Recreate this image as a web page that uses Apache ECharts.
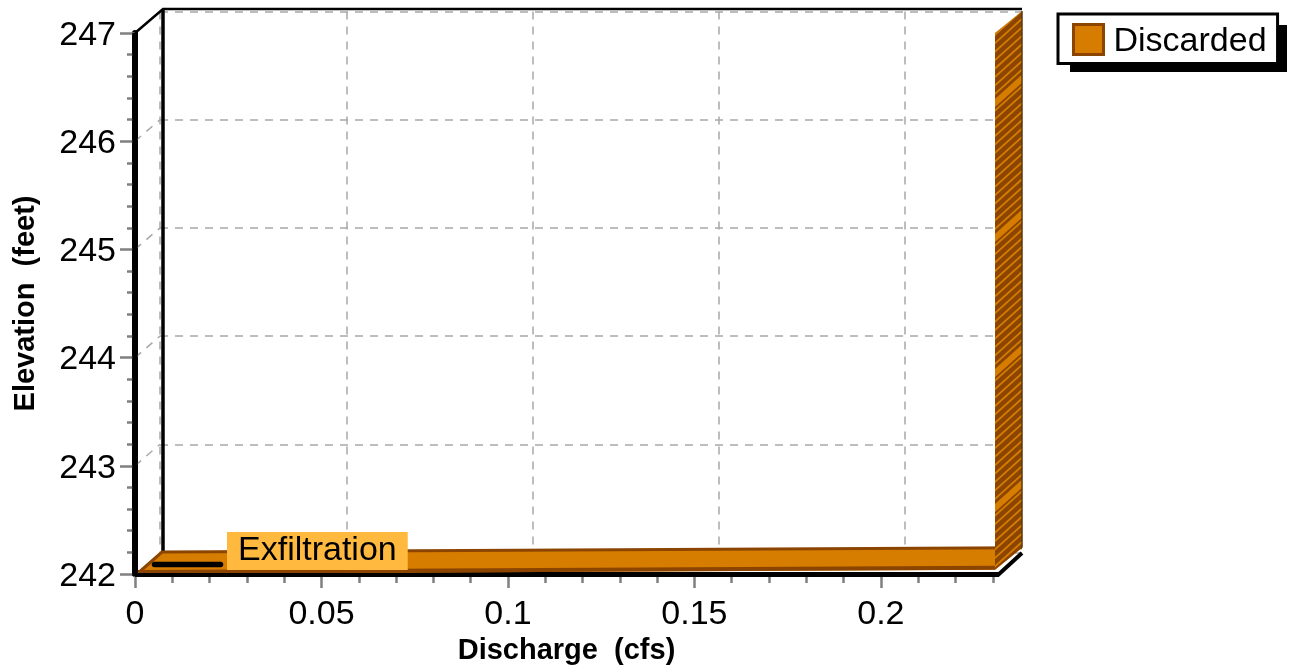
<!DOCTYPE html>
<html>
<head>
<meta charset="utf-8">
<style>html,body{margin:0;padding:0;background:#fff}#c{width:1291px;height:669px}</style>
<script src="https://cdn.jsdelivr.net/npm/echarts@6/dist/echarts.min.js"></script>
</head>
<body>
<div id="c"></div>
<script>
// ---- data ----
const xTicks = [0, 0.05, 0.1, 0.15, 0.2];
const yTicks = [242, 243, 244, 245, 246, 247];
const xMax = 0.2314;
const discardedDischarge = [0, 0.2306, 0.2306];
const discardedElevation = [242, 242.04, 247];
const exfiltrationDischarge = [0, 0.0177];
const exfiltrationElevation = [242, 242];
const seriesNames = ['Discarded', 'Exfiltration'];

// ---- style ----
const FONT = '"Liberation Sans", Arial, sans-serif';
const ORANGE = '#D67D00', BROWN = '#8B4500', GRAY = '#808080', DASH = '#A8A8A8';
const DX = 27, DY = -22;

function hatchTile() {
  const c = document.createElement('canvas');
  c.width = 1100; c.height = 135;
  const g = c.getContext('2d');
  g.fillStyle = BROWN; g.fillRect(0, 0, 1100, 135);
  g.strokeStyle = ORANGE;
  const s = 0.9, x0 = 995;
  const stroke = (y, w) => {
    g.lineWidth = w; g.beginPath();
    g.moveTo(x0 - 10, y + s * 10); g.lineTo(x0 + 40, y - s * 40); g.stroke();
  };
  for (let k = -10; k < 30; k++) stroke(k * 135 / 16 + 1, 1.8);
  [-32, 103, 238].forEach(y => stroke(y, 6));
  return c;
}
const tile = hatchTile();

const chart = echarts.init(document.getElementById('c'), null, {renderer: 'canvas'});

const tickLabel = {fontFamily: FONT, fontSize: 34, color: '#000'};

function renderDiscarded(params, api) {
  if (params.dataIndex === 0) {
    const pts = discardedDischarge.map((d, i) => api.coord([d, discardedElevation[i]]));
    const [a, b, c] = pts;
    const up = p => [p[0] + DX, p[1] + DY];
    const floor = [a, b, up(b), up(a)];
    const wall = [[b[0], b[1]], [c[0], c[1]], up(c), up(b)];
    return {type: 'group', children: [
      {type: 'polygon', shape: {points: floor}, style: {fill: ORANGE, stroke: null}},
      {type: 'polyline', shape: {points: [[a[0] + 3, a[1] - 2], [b[0], b[1] - 2]]}, style: {stroke: BROWN, lineWidth: 4, fill: null}},
      {type: 'polyline', shape: {points: [[a[0] + 2, a[1]], up(a), up(b)]}, style: {stroke: BROWN, lineWidth: 3, fill: null}},
      {type: 'polygon', shape: {points: wall}, style: {fill: {image: tile, repeat: 'repeat'}, stroke: null}},
      {type: 'line', shape: {x1: up(b)[0], y1: up(b)[1], x2: up(c)[0], y2: up(c)[1]}, style: {stroke: '#5a3a10', lineWidth: 1.5}}
    ]};
  }
  return {type: 'group', children: []};
}

function renderExfil(params, api) {
  if (params.dataIndex === 0) {
    const a = api.coord([exfiltrationDischarge[0], exfiltrationElevation[0]]);
    const b = api.coord([exfiltrationDischarge[1], exfiltrationElevation[1]]);
    const ox = 19.5, oy = -9.5;
    return {type: 'group', children: [
      {type: 'line', shape: {x1: a[0] + ox, y1: a[1] + oy, x2: b[0] + ox, y2: b[1] + oy},
        style: {stroke: '#000', lineWidth: 5.5, lineCap: 'round'}},
      {type: 'text', style: {text: seriesNames[1], x: b[0] + ox + 6.5, y: b[1] + oy - 13.5,
        fill: '#000', font: '34px ' + FONT, align: 'left', verticalAlign: 'middle',
        backgroundColor: '#FFB93F', padding: [3, 11, 1, 11]}}
    ]};
  }
  return {type: 'group', children: []};
}

function renderFrame(params, api) {
  if (params.dataIndex === 0) {
    const p0 = api.coord([0, yTicks[0]]), p1 = api.coord([0, yTicks[5]]);
    const q1 = api.coord([xMax, yTicks[5]]);
    const kids = [];
    yTicks.slice(1, 5).forEach(v => {
      const p = api.coord([0, v]);
      kids.push({type: 'line', shape: {x1: p[0], y1: p[1], x2: p[0] + 25, y2: p[1] - 21.5},
        style: {stroke: DASH, lineWidth: 1.5, lineDash: [8, 7]}});
    });
    kids.push(
      {type: 'line', shape: {x1: p0[0] + 28, y1: p0[1] - 22, x2: p1[0] + 28, y2: p1[1] - 24}, style: {stroke: '#000', lineWidth: 3.5}},
      {type: 'polyline', shape: {points: [p1, [p1[0] + 28, p1[1] - 24], [q1[0] + 24, q1[1] - 24]]}, style: {stroke: '#000', lineWidth: 2.5, fill: null}}
    );
    return {type: 'group', children: kids};
  }
  return {type: 'group', children: []};
}

function renderFrameFront(params, api) {
  if (params.dataIndex === 0) {
    const p0 = api.coord([0, yTicks[0]]), p1 = api.coord([0, yTicks[5]]);
    const q0 = api.coord([xMax, yTicks[0]]);
    return {type: 'group', children: [
      {type: 'line', shape: {x1: p0[0], y1: p0[1] + 2, x2: p1[0], y2: p1[1]}, style: {stroke: '#000', lineWidth: 5.5}},
      {type: 'polyline', shape: {points: [[p0[0], p0[1] + 1], [q0[0], q0[1] + 1], [q0[0] + 24, q0[1] - 21]]},
        style: {stroke: '#000', lineWidth: 4, fill: null}}
    ]};
  }
  return {type: 'group', children: []};
}

chart.setOption({
  animation: false,
  backgroundColor: '#fff',
  grid: [
    {left: 135, top: 33, width: 863, height: 541, containLabel: false, outerBoundsMode: 'none'},
    {left: 160, top: 11.5, width: 862, height: 541, outerBoundsMode: 'none'}
  ],
  xAxis: [
    {type: 'value', gridIndex: 0, min: 0, max: xMax, interval: 0.05,
     name: 'Discharge  (cfs)', nameLocation: 'middle', nameGap: 62,
     nameTextStyle: {fontFamily: FONT, fontSize: 29, fontWeight: 'bold', color: '#000'},
     axisLine: {show: true, onZero: false, lineStyle: {color: '#000', width: 4}},
     axisTick: {show: true, length: 14, customValues: xTicks, lineStyle: {color: GRAY, width: 2.5}},
     minorTick: {show: true, splitNumber: 5, length: 9, lineStyle: {color: GRAY, width: 2.5}},
     axisLabel: {show: true, margin: 20, customValues: xTicks, formatter: v => String(v), padding: [4, 0, 0, 0], ...tickLabel},
     splitLine: {show: false}},
    {type: 'value', gridIndex: 1, min: 0, max: xMax, interval: 0.05,
     axisLine: {show: false}, axisTick: {show: false, customValues: xTicks},
     axisLabel: {show: false, customValues: xTicks},
     splitLine: {show: true, lineStyle: {color: DASH, width: 1.5, type: [8, 7]}}}
  ],
  yAxis: [
    {type: 'value', gridIndex: 0, min: 242, max: 247, interval: 1,
     name: 'Elevation  (feet)', nameLocation: 'middle', nameGap: 95,
     nameTextStyle: {fontFamily: FONT, fontSize: 29, fontWeight: 'bold', color: '#000'},
     axisLine: {show: true, onZero: false, lineStyle: {color: '#000', width: 6}},
     axisTick: {show: true, length: 15, lineStyle: {color: GRAY, width: 2.5}},
     minorTick: {show: true, splitNumber: 5, length: 8, lineStyle: {color: GRAY, width: 2.5}},
     axisLabel: {show: true, margin: 19, formatter: v => '{v|' + v + '}',
       rich: {v: {...tickLabel, padding: [5, 0, 0, 0]}}, ...tickLabel},
     splitLine: {show: false}},
    {type: 'value', gridIndex: 1, min: 242, max: 247, interval: 1,
     axisLine: {show: false}, axisTick: {show: false}, axisLabel: {show: false},
     splitLine: {show: true, lineStyle: {color: DASH, width: 1.5, type: [8, 7]}}}
  ],
  legend: {
    data: [{name: seriesNames[0], icon: 'rect',
      itemStyle: {color: ORANGE, borderColor: BROWN, borderWidth: 3}}],
    orient: 'vertical', left: 1058, top: 14,
    padding: [9, 11, 5, 14],
    backgroundColor: '#fff', borderColor: '#000', borderWidth: 3, borderRadius: 0,
    itemWidth: 30, itemHeight: 30, itemGap: 0, selectedMode: false, z: 10,
    formatter: '{v|{name}}',
    textStyle: {fontFamily: FONT, fontSize: 34, color: '#000', padding: [0, 0, 0, 5],
      rich: {v: {fontFamily: FONT, fontSize: 34, color: '#000', padding: [4, 0, 0, 0]}}}
  },
  graphic: [{type: 'rect', z: 5, shape: {x: 1070, y: 25, width: 217, height: 47}, style: {fill: '#000'}}],
  series: [
    {type: 'custom', name: 'frame', xAxisIndex: 0, yAxisIndex: 0, z: 2, silent: true,
     data: yTicks.map(v => [0, v]), renderItem: renderFrame, encode: {x: 0, y: 1}},
    {type: 'custom', name: seriesNames[0], xAxisIndex: 0, yAxisIndex: 0, z: 3, silent: true,
     itemStyle: {color: ORANGE},
     data: discardedDischarge.map((d, i) => [d, discardedElevation[i]]), renderItem: renderDiscarded, encode: {x: 0, y: 1}},
    {type: 'custom', name: 'frameFront', xAxisIndex: 0, yAxisIndex: 0, z: 4, silent: true,
     data: [[xMax, yTicks[0]]], renderItem: renderFrameFront, encode: {x: 0, y: 1}},
    {type: 'custom', name: seriesNames[1], xAxisIndex: 0, yAxisIndex: 0, z: 5, silent: true,
     data: exfiltrationDischarge.map((d, i) => [d, exfiltrationElevation[i]]), renderItem: renderExfil, encode: {x: 0, y: 1}}
  ]
});
</script>
</body>
</html>
